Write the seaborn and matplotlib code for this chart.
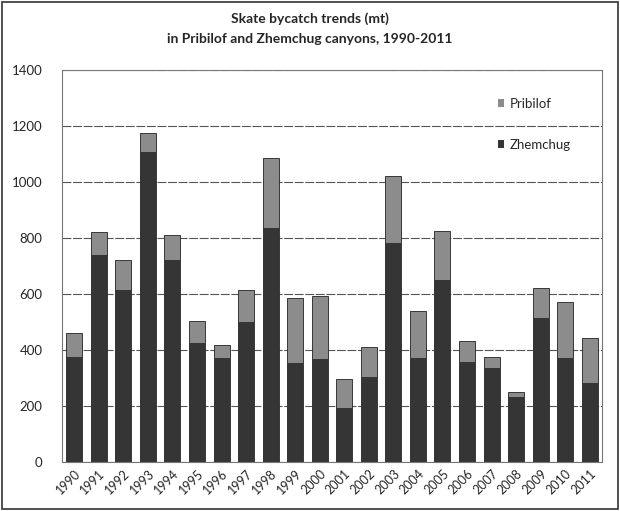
import matplotlib
matplotlib.use("Agg")
import matplotlib.pyplot as plt
import seaborn as sns
import pandas as pd
from matplotlib.patches import Patch, Rectangle

# Values (metric tons)
years = [str(y) for y in range(1990, 2012)]
zhemchug = [375, 739, 614, 1108, 721, 424, 370, 501, 834, 352, 367,
            192, 305, 781, 370, 650, 358, 335, 232, 513, 373, 281]
total = [460, 822, 721, 1174, 811, 505, 418, 614, 1084, 585, 593,
         295, 412, 1021, 540, 825, 433, 376, 251, 623, 570, 442]

df = pd.DataFrame({"year": years, "Zhemchug": zhemchug, "total": total})

sns.set_style("white")
plt.rcParams["font.family"] = ["Lato", "DejaVu Sans"]

fig = plt.figure(figsize=(6.2, 5.11), dpi=100)
ax = fig.add_axes([0.1, 0.096, 0.871, 0.767])

pri_color = "#8c8c8c"
zhe_color = "#353535"

sns.barplot(data=df, x="year", y="total", color=pri_color, width=0.65,
            saturation=1, edgecolor="#222222", linewidth=0.6, ax=ax)
sns.barplot(data=df, x="year", y="Zhemchug", color=zhe_color, width=0.65,
            saturation=1, linewidth=0, ax=ax)

ax.set_ylim(0, 1400)
ax.set_yticks(range(0, 1401, 200))
ax.set_xlim(-0.5, len(years) - 0.5)
ax.yaxis.grid(True, color="#555555", linestyle=(0, (8, 1.5)), linewidth=0.8)
ax.set_axisbelow(True)
ax.set_xlabel("")
ax.set_ylabel("")
for s in ax.spines.values():
    s.set_color("#777777")
    s.set_linewidth(0.8)
ax.tick_params(axis="y", labelsize=9.5, length=0, pad=14)
ax.tick_params(axis="x", labelsize=9, length=0, pad=4)
plt.setp(ax.get_xticklabels(), rotation=45, ha="right", rotation_mode="anchor")

fig.suptitle("Skate bycatch trends (mt)\nin Pribilof and Zhemchug canyons, 1990-2011",
             y=0.975, fontsize=10, fontweight="bold", linespacing=1.75)

handles = [Patch(facecolor=pri_color, edgecolor="none"),
           Patch(facecolor=zhe_color, edgecolor="none")]
ax.legend(handles, ["Pribilof", "Zhemchug"], loc="upper left",
          bbox_to_anchor=(0.785, 0.96), frameon=False, fontsize=9.5,
          handlelength=0.5, handleheight=0.5, handletextpad=0.4,
          labelspacing=2.2)

fig.patches.append(Rectangle((0.003, 0.003), 0.994, 0.994, transform=fig.transFigure,
                             fill=False, edgecolor="#333333", linewidth=1.2))

fig.savefig("out.png", dpi=100)
